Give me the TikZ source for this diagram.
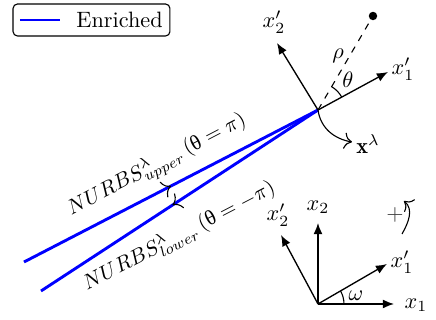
\documentclass[tikz,border=0pt]{standalone}
\usepackage{fontspec}
\newfontfamily\grk{Liberation Serif}
\usetikzlibrary{arrows.meta,decorations.markings}
\begin{document}
\begin{tikzpicture}[x=0.45pt,y=0.45pt,
  axis/.style={line width=0.6pt,-{Latex[length=5pt,width=4pt]}},
  crack/.style={blue,line width=1.3pt},
  lbl/.style={inner sep=1pt},
  nlbl/.style={inner sep=0pt,scale=0.95,rotate=27.5}]
\useasboundingbox (0,0) rectangle (436,320);
% legend
\node[draw,rounded corners=2pt,line width=0.5pt,minimum width=70.6pt,minimum height=14.4pt] (leg) at (91.5,300) {};
\coordinate (la) at (20,300);
\coordinate (lb) at (60,300);
\draw[crack,line width=1pt] (la) -- (lb);
\node[anchor=west,inner sep=0pt] (legtxt) at (76,300.5) {Enriched};
% crack tip and faces
\coordinate (tip) at (318,210);
\coordinate (up0) at (24,58);
\coordinate (lo0) at (41,29);
\draw[crack,postaction={decorate},decoration={markings,mark=at position 0.5 with {\arrow[black,line width=0.5pt]{To[scale=1.4]}}}] (up0) -- (tip);
\draw[crack,postaction={decorate},decoration={markings,mark=at position 0.5 with {\arrow[black,line width=0.5pt]{To[scale=1.4,reversed]}}}] (lo0) -- (tip);
\node[nlbl] (nup) at (157,155) {$NURBS^{\lambda}_{upper}\,(\mbox{\grk θ}=\pi)$};
\node[nlbl] (nlo) at (179,84) {$NURBS^{\lambda}_{lower}\,(\mbox{\grk θ}=-\pi)$};
% local frame
\coordinate (lx1) at (388,248);
\coordinate (lx2) at (277,277);
\draw[axis] (tip) -- (lx1);
\draw[axis] (tip) -- (lx2);
\node[lbl] (lx1t) at (403,251) {$x_1'$};
\node[lbl] (lx2t) at (274,298) {$x_2'$};
\coordinate (dot) at (373,304);
\draw[dashed,line width=0.5pt] (tip) -- (dot);
\fill (dot) circle (1.9pt);
\draw[line width=0.5pt] (tip) ++(28.5:27) arc[start angle=28.5,end angle=59.7,radius=12.15pt];
\node[lbl] (rho) at (338,264) {$\rho$};
\node[lbl] (theta) at (348,240) {$\theta$};
\coordinate (xl) at (352,178);
\draw[line width=0.5pt,-{To[scale=1.3]}] (tip) to[out=-82,in=170] (xl);
\node[lbl] (xlt) at (368,176) {$\mathbf{x}^{\lambda}$};
% global frame
\coordinate (O) at (318,16);
\coordinate (gx1) at (394,16);
\coordinate (gx2) at (318,97);
\coordinate (gx1p) at (387,56);
\coordinate (gx2p) at (281,85);
\draw[axis] (O) -- (gx1);
\draw[axis] (O) -- (gx2);
\draw[axis] (O) -- (gx1p);
\draw[axis] (O) -- (gx2p);
\node[lbl] (gx1t) at (416,15) {$x_1$};
\node[lbl] (gx2t) at (318,113) {$x_2$};
\node[lbl] (gx1pt) at (402,58) {$x_1'$};
\node[lbl] (gx2pt) at (278,105) {$x_2'$};
\draw[line width=0.5pt] (O) ++(0:26) arc[start angle=0,end angle=30,radius=11.7pt];
\node[lbl] (om) at (356,24) {$\omega$};
\node[lbl,text=black!75] (plus) at (395,105) {$+$};
\coordinate (ra) at (402,86);
\coordinate (rb) at (404,119);
\draw[line width=0.5pt,-{To[scale=1.3]}] (ra) to[out=60,in=-40] (rb);
\end{tikzpicture}
\end{document}
